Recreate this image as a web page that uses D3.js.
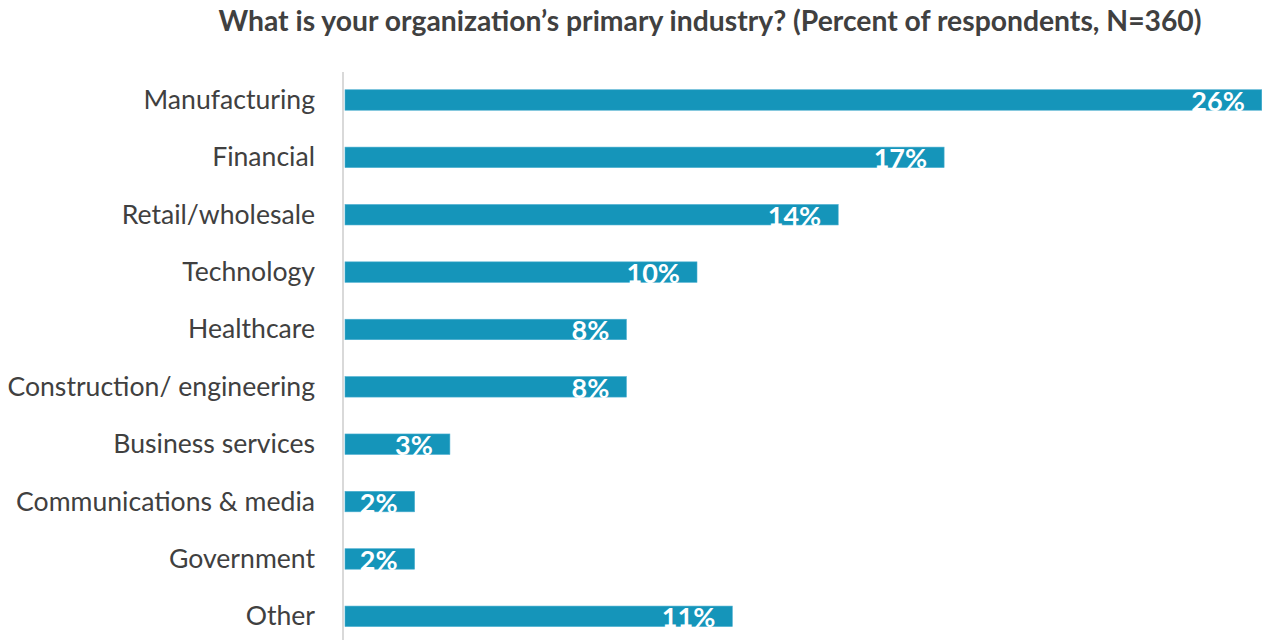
<!DOCTYPE html>
<html>
<head>
<meta charset="utf-8">
<script src="https://cdn.jsdelivr.net/npm/d3@7"></script>
<style>
  body { margin: 0; background: #fff; }
  svg { display: block; font-family: Lato, "Open Sans", sans-serif; }
  .title { font-weight: bold; fill: #404040; }
  .cat-label { fill: #404040; }
  .val-label { fill: #fff; font-weight: bold; }
</style>
</head>
<body>
<div id="chart"></div>
<script>

// industries, top to bottom
var industries = ["Manufacturing", "Financial", "Retail/wholesale", "Technology", "Healthcare",
  "Construction/ engineering", "Business services", "Communications & media", "Government", "Other"];
var percents = [26, 17, 14, 10, 8, 8, 3, 2, 2, 11];

var chartTitle = "What is your organization\u2019s primary industry? (Percent of respondents, N=360)";

var width = 1262, height = 640;

var svg = d3.select("#chart").append("svg")
  .attr("width", width)
  .attr("height", height);

var data = industries.map(function(d, i) { return { name: d, value: percents[i] }; });

var x = d3.scaleLinear()
  .domain([0, 26])
  .range([344, 344 + 26 * 35.3]);

var y = d3.scaleBand()
  .domain(industries)
  .range([71.3, 71.3 + 10 * 57.37])
  .paddingInner(0.643)
  .paddingOuter(0.3215);

svg.append("text")
  .attr("class", "title")
  .attr("x", 710)
  .attr("y", 31)
  .attr("text-anchor", "middle")
  .style("font-size", "28.3px")
  .text(chartTitle);

// axis line
svg.append("line")
  .attr("x1", 343).attr("x2", 343)
  .attr("y1", 72).attr("y2", height)
  .attr("stroke", "#d9d9d9")
  .attr("stroke-width", 2);

svg.append("g")
  .selectAll("rect")
  .data(data)
  .enter().append("rect")
  .attr("x", x(0) + 1)
  .attr("y", function(d) { return y(d.name); })
  .attr("width", function(d) { return x(d.value) - x(0) - 1; })
  .attr("height", y.bandwidth())
  .attr("fill", "#1595ba")
  .attr("stroke", "#4aaed0")
  .attr("stroke-width", 0.6);

svg.selectAll(".cat-label")
  .data(data)
  .enter().append("text")
  .attr("class", "cat-label")
  .attr("x", 315)
  .attr("y", function(d) { return y(d.name) + y.bandwidth() / 2 + 9; })
  .attr("text-anchor", "end")
  .style("font-size", "26.6px")
  .text(function(d) { return d.name; });

svg.selectAll(".val-label")
  .data(data)
  .enter().append("text")
  .attr("class", "val-label")
  .attr("x", function(d) { return x(d.value) - 17; })
  .attr("y", function(d) { return y(d.name) + y.bandwidth() / 2 + 11; })
  .attr("text-anchor", "end")
  .style("font-size", "27px")
  .text(function(d) { return d.value + "%"; });

</script>
</body>
</html>
